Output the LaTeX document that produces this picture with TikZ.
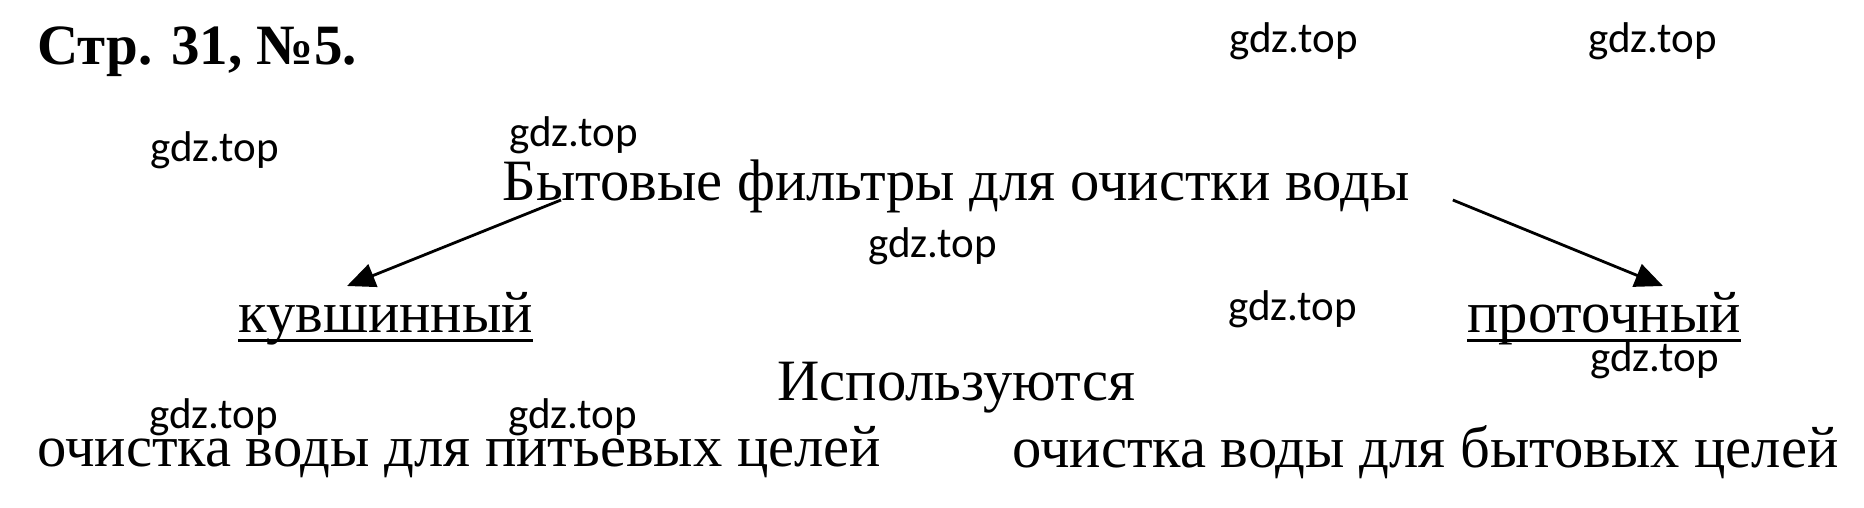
\documentclass[tikz,border=0pt]{standalone}
\usepackage{fontspec}
\setmainfont{Liberation Serif}
\newfontfamily\wmfont{Carlito}
\usepackage{tikz}
\usetikzlibrary{arrows.meta,positioning}
\usetikzlibrary{calc}

\begin{document}
\begin{tikzpicture}[x=0.5pt, y=-0.5pt,
        txt/.style = {anchor=base west, inner sep=0pt, font=\fontsize{29.3}{35}\selectfont},
        wm/.style = {anchor=base west, inner sep=0pt, font=\wmfont\fontsize{21.5}{26}\selectfont},
        arr/.style = {line width=1.4pt, -{Triangle[length=14pt, width=12pt]}},
        uline/.style = {line width=1.8pt}]

        % page frame
        \useasboundingbox (0,0) rectangle (1864,508);

        % heading
        \node[txt, font=\fontsize{28.5}{34}\selectfont\bfseries] (title_label) at (37,65) {Стр. 31, №5.};

        % filters
        \node[txt] (filter_label) at (502,200) {Бытовые фильтры для очистки воды};
        \node[txt] (jug_label) at (238,332) {кувшинный};
        \node[txt] (flow_label) at (1467,332) {проточный};
        \draw[uline] ([yshift=-4.2pt]jug_label.base west) -- ([yshift=-4.2pt]jug_label.base east);
        \draw[uline] ([yshift=-4.2pt]flow_label.base west) -- ([yshift=-4.2pt]flow_label.base east);

        % arrows
        \draw[arr] ([xshift=29.5pt]filter_label.base west) -- ([xshift=54.5pt, yshift=23pt]jug_label.base west);
        \draw[arr] ([xshift=21.5pt]filter_label.base east) -- ([xshift=98pt, yshift=23pt]flow_label.base west);

        % usage
        \node[txt] (used_label) at (777,400) {Используются};
        \node[txt] (drink_label) at (37,466) {очистка воды для питьевых целей};
        \node[txt] (home_label) at (1012,467) {очистка воды для бытовых целей};

        % watermarks
        \node[wm] (wm_a) at (1229,53) {gdz.top};
        \node[wm] (wm_b) at (1588,53) {gdz.top};
        \node[wm] (wm_c) at (150,162) {gdz.top};
        \node[wm] (wm_d) at (509,147) {gdz.top};
        \node[wm] (wm_e) at (868,257) {gdz.top};
        \node[wm] (wm_f) at (1228,320) {gdz.top};
        \node[wm] (wm_g) at (1590,371) {gdz.top};
        \node[wm] (wm_h) at (149,428) {gdz.top};
        \node[wm] (wm_i) at (508,428) {gdz.top};

\end{tikzpicture}
\end{document}
